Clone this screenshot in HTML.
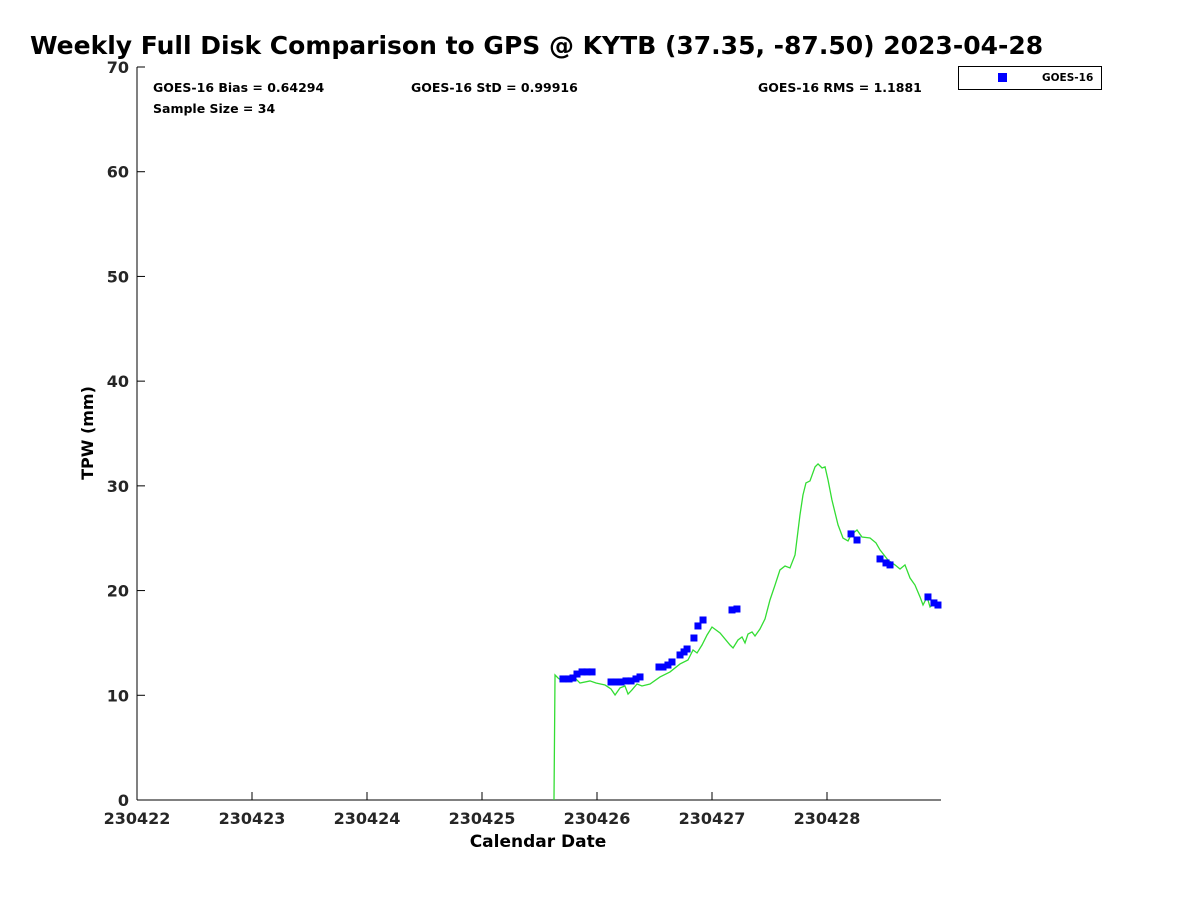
<!DOCTYPE html>
<html><head><meta charset="utf-8"><style>
body{margin:0;background:#fff;}
svg text{font-family:"DejaVu Sans","Liberation Sans",sans-serif;font-weight:bold;}
</style></head><body>
<svg id="chart" width="1200" height="900" xmlns="http://www.w3.org/2000/svg">
<rect width="1200" height="900" fill="#fff"/>
<text x="30" y="54" font-size="25" fill="#000">Weekly Full Disk Comparison to GPS @ KYTB (37.35, -87.50) 2023-04-28</text>
<g id="axes"></g>
<g id="series"></g>
<text x="153" y="92" font-size="12.5">GOES-16 Bias = 0.64294</text>
<text x="411" y="92" font-size="12.5">GOES-16 StD = 0.99916</text>
<text x="758" y="92" font-size="12.5">GOES-16 RMS = 1.1881</text>
<text x="153" y="113" font-size="12.5">Sample Size = 34</text>
<g>
<rect x="958.5" y="66.5" width="143" height="23" fill="#fff" stroke="#000" stroke-width="1"/>
<rect x="998" y="73" width="9" height="9" fill="#0000ff"/>
<text x="1042" y="81" font-size="10.5">GOES-16</text>
</g>
<text x="538" y="847" font-size="17" text-anchor="middle">Calendar Date</text>
<text transform="translate(93,433) rotate(-90)" font-size="16" text-anchor="middle">TPW (mm)</text>
</svg>
<script>
const xTickLabels=["230422","230423","230424","230425","230426","230427","230428"];
const yTicks=[0,10,20,30,40,50,60,70];
const gpsDays=[3.626,3.635,3.661,3.696,3.765,3.817,3.852,3.939,3.991,4.070,4.122,4.157,4.200,4.243,4.270,4.304,4.348,4.391,4.461,4.548,4.635,4.722,4.791,4.835,4.870,4.913,4.957,5.000,5.070,5.157,5.183,5.226,5.261,5.287,5.313,5.348,5.374,5.417,5.461,5.504,5.548,5.591,5.635,5.678,5.722,5.765,5.791,5.817,5.852,5.896,5.922,5.957,5.983,6.009,6.043,6.096,6.139,6.183,6.209,6.261,6.304,6.374,6.426,6.461,6.530,6.591,6.635,6.678,6.722,6.765,6.809,6.835,6.870,6.896,6.939,6.983];
const gpsValues=[0,11.94,11.65,11.37,11.37,11.56,11.17,11.37,11.17,10.98,10.60,10.03,10.70,10.89,10.12,10.51,11.08,10.89,11.08,11.75,12.23,12.99,13.37,14.33,14.04,14.80,15.76,16.52,15.95,14.80,14.52,15.28,15.57,15.00,15.85,16.05,15.66,16.33,17.29,19.10,20.53,21.97,22.35,22.16,23.40,27.22,29.13,30.28,30.47,31.81,32.09,31.71,31.81,30.56,28.65,26.27,25.02,24.74,25.31,25.79,25.12,25.02,24.55,23.88,22.92,22.45,22.06,22.45,21.20,20.53,19.39,18.62,19.39,18.43,18.82,18.34];
const goesDays=[3.704,3.757,3.791,3.826,3.870,3.913,3.957,4.122,4.165,4.209,4.252,4.296,4.339,4.374,4.539,4.574,4.617,4.652,4.722,4.757,4.783,4.843,4.878,4.922,5.174,5.217,6.209,6.261,6.461,6.513,6.548,6.878,6.930,6.965];
const goesValues=[11.56,11.56,11.65,12.03,12.23,12.23,12.23,11.27,11.27,11.27,11.37,11.37,11.56,11.75,12.70,12.70,12.89,13.18,13.85,14.14,14.42,15.47,16.62,17.19,18.15,18.24,25.41,24.83,23.02,22.64,22.45,19.39,18.82,18.62];
const NS="http://www.w3.org/2000/svg";
const X0=137,DAY=115,XR=941,Y0=800,YT=67,YMAX=70;
const xs=d=>X0+d*DAY, ys=v=>Y0-(v/YMAX)*(Y0-YT);
function mk(t,a,p){const e=document.createElementNS(NS,t);for(const k in a)e.setAttribute(k,a[k]);p.appendChild(e);return e;}
const axes=document.getElementById('axes'),ser=document.getElementById('series');
let l=mk('line',{x1:X0,y1:YT,x2:X0,y2:Y0,stroke:'#000'},axes);


l=mk('line',{x1:X0,y1:Y0,x2:XR,y2:Y0,stroke:'#000'},axes);


yTicks.forEach(v=>{const y=ys(v);
 mk('line',{x1:X0,y1:y,x2:X0+8,y2:y,stroke:'#000'},axes);
 const t=mk('text',{x:X0-8,y:y+6,'font-size':16,'text-anchor':'end',fill:'#262626'},axes);
 
 
 t.textContent=v;});
xTickLabels.forEach((s,i)=>{const x=xs(i);
 mk('line',{x1:x,y1:Y0,x2:x,y2:Y0-8,stroke:'#000'},axes);
 const t=mk('text',{x:x,y:Y0+24,'font-size':16,'text-anchor':'middle',fill:'#262626'},axes);
 
 
 t.textContent=s;});
const pl=mk('polyline',{points:gpsDays.map((d,i)=>xs(d)+','+ys(gpsValues[i])).join(' '),fill:'none',stroke:'#33dd33','stroke-width':1.3},ser);


goesDays.forEach((d,i)=>{const r=mk('rect',{x:xs(d)-3.5,y:ys(goesValues[i])-3.5,width:7,height:7,fill:'#0000ff'},ser);
 
 });
</script>
</body></html>
